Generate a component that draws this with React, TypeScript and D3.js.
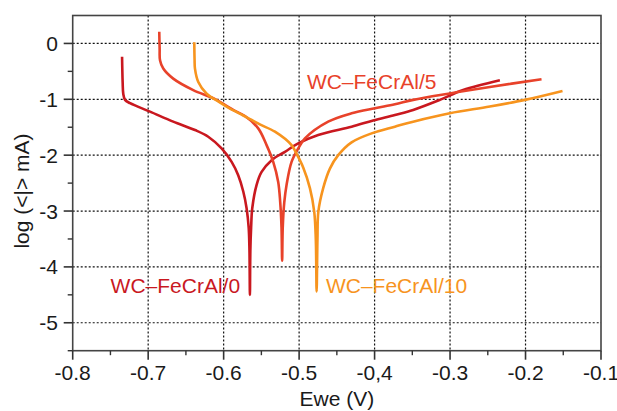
import React from "react";
import * as d3 from "d3";

const xTicks = [-0.8, -0.7, -0.6, -0.5, -0.4, -0.3, -0.2, -0.1];
const xTickLabels = ["-0.8", "-0.7", "-0.6", "-0.5", "-0,4", "-0.3", "-0.2", "-0.1"];
const yTicks = [0, -1, -2, -3, -4, -5];
const yTickLabels = ["0", "-1", "-2", "-3", "-4", "-5"];

// [E (V), log I]
const series0: [number, number][] = [
  [-0.7346, -0.24], [-0.7338, -0.7], [-0.733, -0.9], [-0.7307, -1.01], [-0.724, -1.07],
  [-0.6976, -1.22], [-0.6668, -1.4], [-0.638, -1.55], [-0.6204, -1.67], [-0.6027, -1.88],
  [-0.5894, -2.12], [-0.5807, -2.36], [-0.574, -2.65], [-0.5696, -2.95], [-0.5668, -3.3],
  [-0.5658, -3.7], [-0.5652, -4.5], [-0.5646, -3.7], [-0.5636, -3.3], [-0.5621, -2.95],
  [-0.5563, -2.53], [-0.5497, -2.3], [-0.5364, -2.09], [-0.5188, -1.94], [-0.5012, -1.79],
  [-0.4747, -1.64], [-0.4305, -1.49], [-0.4019, -1.38], [-0.3731, -1.28], [-0.3489, -1.19],
  [-0.3135, -1.01], [-0.2827, -0.835], [-0.234, -0.66],
];
const series5: [number, number][] = [
  [-0.6853, 0.21], [-0.6848, -0.1], [-0.6843, -0.3], [-0.68, -0.45], [-0.6668, -0.63],
  [-0.6403, -0.835], [-0.6138, -0.98], [-0.5983, -1.1], [-0.5873, -1.19], [-0.5718, -1.3],
  [-0.5542, -1.52], [-0.5431, -1.82], [-0.5343, -2.12], [-0.5277, -2.48], [-0.525, -2.85],
  [-0.5233, -3.3], [-0.5225, -3.89], [-0.5217, -3.3], [-0.5197, -2.85], [-0.5166, -2.53],
  [-0.51, -2.12], [-0.5012, -1.88], [-0.4923, -1.7], [-0.4615, -1.4], [-0.4305, -1.25],
  [-0.3996, -1.16], [-0.3731, -1.09], [-0.3489, -1.01], [-0.3003, -0.895], [-0.2473, -0.78],
  [-0.1788, -0.64],
];
const series10: [number, number][] = [
  [-0.6389, 0.02], [-0.6385, -0.3], [-0.638, -0.45], [-0.6336, -0.69], [-0.6225, -0.9],
  [-0.6093, -1.02], [-0.5939, -1.15], [-0.574, -1.29], [-0.5629, -1.37], [-0.552, -1.45],
  [-0.532, -1.58], [-0.51, -1.82], [-0.5036, -1.97], [-0.4946, -2.22], [-0.4857, -2.59],
  [-0.48, -3.01], [-0.4779, -3.5], [-0.4768, -4.44], [-0.4757, -3.5], [-0.4745, -3.01],
  [-0.4681, -2.59], [-0.4592, -2.24], [-0.4482, -2.0], [-0.4305, -1.77], [-0.404, -1.61],
  [-0.3731, -1.49], [-0.3489, -1.4], [-0.3003, -1.25], [-0.2473, -1.13], [-0.2009, -1.01],
  [-0.151, -0.85],
];

const seriesNames = ["WC–FeCrAl/0", "WC–FeCrAl/5", "WC–FeCrAl/10"];
const seriesColors = ["#c9181f", "#e8422a", "#f7941e"];
const seriesData = [series0, series5, series10];
// label anchors [E, logI, anchor]
const labelAnchors: [number, number, string][] = [
  [-0.5782, -4.46, "end"],
  [-0.4897, -0.82, "start"],
  [-0.4645, -4.46, "start"],
];

const W = 617, H = 411;
const M = { left: 72.7, right: 601, top: 15.5, bottom: 350.7 };
const FONT = "'Liberation Sans', Arial, sans-serif";

export default function App() {
  const x = d3.scaleLinear().domain([-0.8, -0.1]).range([M.left, M.right]);
  const y = d3.scaleLinear().domain([-5.5, 0.5]).range([M.bottom, M.top]);
  const line = d3
    .line<[number, number]>()
    .x((d) => x(d[0]))
    .y((d) => y(d[1]))
    .curve(d3.curveCatmullRom.alpha(0.5));

  const xMinor = d3.range(-0.75, -0.1, 0.1);
  const yMinor = yTicks.map((v) => v - 0.5);

  return (
    <svg
      width={W}
      height={H}
      style={{ position: "absolute", left: 0, top: 0, background: "#fff" }}
      fontFamily={FONT}
    >
      {xTicks.slice(1, -1).map((t) => (
        <line key={"gx" + t} x1={x(t)} x2={x(t)} y1={M.top} y2={M.bottom}
          stroke="#111" strokeWidth={1.2} strokeDasharray="2,2" />
      ))}
      {yTicks.map((t) => (
        <line key={"gy" + t} x1={M.left} x2={M.right} y1={y(t)} y2={y(t)}
          stroke="#111" strokeWidth={1.2} strokeDasharray="2,2" />
      ))}
      {seriesData.map((s, i) => (
        <path key={"s" + i} d={line(s) || ""} fill="none" stroke={seriesColors[i]}
          strokeWidth={2.6} strokeLinejoin="round" strokeLinecap="butt" />
      ))}
      <rect x={M.left} y={M.top} width={M.right - M.left} height={M.bottom - M.top}
        fill="none" stroke="#444" strokeWidth={1.6} />
      {xTicks.map((t) => (
        <line key={"xt" + t} x1={x(t)} x2={x(t)} y1={M.bottom} y2={M.bottom + 9}
          stroke="#333" strokeWidth={1.6} />
      ))}
      {xMinor.map((t) => (
        <line key={"xm" + t} x1={x(t)} x2={x(t)} y1={M.bottom} y2={M.bottom + 4.5}
          stroke="#333" strokeWidth={1.4} />
      ))}
      {xTicks.map((t, i) => (
        <text key={"xl" + t} x={x(t)} y={380} textAnchor="middle" fontSize={21} fill="#1a1a1a">
          {xTickLabels[i]}
        </text>
      ))}
      {yTicks.map((t) => (
        <line key={"yt" + t} x1={M.left - 9} x2={M.left} y1={y(t)} y2={y(t)}
          stroke="#333" strokeWidth={1.6} />
      ))}
      {yMinor.map((t) => (
        <line key={"ym" + t} x1={M.left - 5} x2={M.left} y1={y(t)} y2={y(t)}
          stroke="#333" strokeWidth={1.4} />
      ))}
      {yTicks.map((t, i) => (
        <text key={"yl" + t} x={58} y={y(t)} dy="0.36em" textAnchor="end" fontSize={21} fill="#1a1a1a">
          {yTickLabels[i]}
        </text>
      ))}
      <text x={(M.left + M.right) / 2} y={406} textAnchor="middle" fontSize={21} fill="#1a1a1a">
        Ewe (V)
      </text>
      <text transform={`translate(29,191) rotate(-90)`} textAnchor="middle" fontSize={21} fill="#1a1a1a">
        log (&lt;|&gt; mA)
      </text>
      {labelAnchors.map((a, i) => (
        <text key={"lab" + i} x={x(a[0])} y={y(a[1])} textAnchor={a[2] as any} fontSize={21}
          fill={seriesColors[i]}>
          {seriesNames[i]}
        </text>
      ))}
    </svg>
  );
}
